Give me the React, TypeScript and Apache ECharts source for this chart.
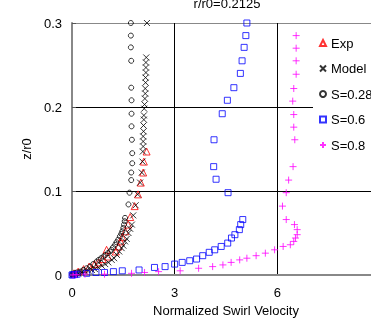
import React, { useEffect, useRef } from "react";
import * as echarts from "echarts";

const titleText = "r/r0=0.2125";
const xName = "Normalized Swirl Velocity";
const yName = "z/r0";
const seriesNames = ["Exp", "Model", "S=0.28", "S=0.6", "S=0.8"];

const expData: number[][] = [
  [2.18, 0.147], [2.1, 0.135], [2.08, 0.122], [2.01, 0.11], [1.93, 0.096],
  [1.83, 0.082], [1.7, 0.069], [1.64, 0.06], [1.56, 0.052], [1.47, 0.045],
  [1.42, 0.04], [1.36, 0.034], [1.28, 0.028], [1.01, 0.03], [1.05, 0.022],
  [0.9, 0.019], [0.78, 0.015], [0.66, 0.013], [0.5, 0.01], [0.34, 0.007],
  [0.18, 0.004], [0.06, 0.002],
];

const modelData: number[][] = [
  [2.19, 0.3], [2.17, 0.259], [2.16, 0.253], [2.16, 0.247], [2.16, 0.241],
  [2.15, 0.235], [2.15, 0.229], [2.14, 0.222], [2.14, 0.216], [2.13, 0.21],
  [2.12, 0.203], [2.11, 0.198], [2.1, 0.19], [2.1, 0.185], [2.09, 0.178],
  [2.09, 0.171], [2.08, 0.165], [2.08, 0.159], [2.08, 0.153], [2.07, 0.147],
  [2.06, 0.135], [2.04, 0.122], [1.99, 0.11], [1.92, 0.096], [1.86, 0.083],
  [1.79, 0.071], [1.75, 0.06], [1.7, 0.055], [1.65, 0.05], [1.6, 0.043],
  [1.55, 0.04], [1.5, 0.035], [1.45, 0.032], [1.38, 0.028], [1.31, 0.024],
  [1.23, 0.02], [1.16, 0.018], [1.06, 0.015], [0.97, 0.013], [0.87, 0.011],
  [0.77, 0.009], [0.67, 0.007], [0.58, 0.006], [0.48, 0.005], [0.38, 0.004],
  [0.28, 0.003], [0.18, 0.002], [0.09, 0.001], [0.03, 0.0005],
];

const s028Data: number[][] = [
  [1.72, 0.3], [1.72, 0.285], [1.72, 0.271], [1.73, 0.255], [1.73, 0.223],
  [1.74, 0.208], [1.74, 0.192], [1.74, 0.177], [1.75, 0.161], [1.76, 0.145],
  [1.76, 0.133], [1.73, 0.122], [1.73, 0.113], [1.68, 0.098], [1.65, 0.084],
  [1.55, 0.068], [1.54, 0.064], [1.52, 0.06], [1.5, 0.056], [1.47, 0.052],
  [1.44, 0.049], [1.4, 0.046], [1.35, 0.042], [1.3, 0.039], [1.26, 0.036],
  [1.2, 0.033], [1.15, 0.03], [1.11, 0.028], [1.05, 0.026], [0.98, 0.024],
  [0.92, 0.022], [0.85, 0.02], [0.78, 0.018], [0.72, 0.016], [0.62, 0.013],
  [0.53, 0.01], [0.43, 0.008], [0.33, 0.006], [0.24, 0.004], [0.14, 0.003],
  [0.07, 0.002], [0.02, 0.001], [0.0, 0.0005],
];

const s06Data: number[][] = [
  [5.11, 0.3], [5.08, 0.285], [5.03, 0.271], [4.97, 0.255], [4.92, 0.24],
  [4.73, 0.223], [4.54, 0.208], [4.39, 0.192], [4.15, 0.161], [4.14, 0.129],
  [4.21, 0.114], [4.56, 0.098], [4.99, 0.066], [4.93, 0.06], [4.89, 0.054],
  [4.76, 0.048], [4.66, 0.044], [4.55, 0.038], [4.36, 0.034], [4.17, 0.03],
  [4.01, 0.027], [3.82, 0.023], [3.64, 0.019], [3.44, 0.017], [3.22, 0.015],
  [3.0, 0.013], [2.72, 0.01], [2.41, 0.009], [1.96, 0.006], [1.47, 0.005],
  [1.21, 0.004], [0.95, 0.003], [0.7, 0.003], [0.43, 0.002], [0.15, 0.001],
  [0.08, 0.0005], [0.03, 0.0002], [0.0, 0.0],
];

const s08Data: number[][] = [
  [6.55, 0.285], [6.55, 0.27], [6.55, 0.255], [6.55, 0.239], [6.48, 0.222],
  [6.45, 0.207], [6.48, 0.191], [6.48, 0.176], [6.51, 0.161], [6.46, 0.129],
  [6.33, 0.113], [6.26, 0.098], [6.15, 0.082], [6.26, 0.066], [6.5, 0.06],
  [6.58, 0.054], [6.58, 0.048], [6.53, 0.044], [6.48, 0.04], [6.38, 0.036],
  [6.17, 0.034], [5.92, 0.03], [5.65, 0.026], [5.38, 0.023], [5.11, 0.02],
  [4.9, 0.018], [4.65, 0.015], [4.41, 0.012], [4.11, 0.01], [3.7, 0.008],
  [3.16, 0.005], [2.53, 0.004], [2.12, 0.003], [1.74, 0.002], [0.95, 0.001],
  [0.38, 0.001], [0.12, 0.0005], [0.03, 0.0],
];

const FONT = "'Liberation Sans', Arial, sans-serif";
const CROSS = "path://M0,0L10,10M10,0L0,10";
const PLUS = "path://M5,0L5,10M0,5L10,5";
const CLEAR = "rgba(0,0,0,0)";

export default function App() {
  const ref = useRef<HTMLDivElement>(null);
  useEffect(() => {
    if (!ref.current) return;
    const chart = echarts.init(ref.current, null, { renderer: "svg" });
    const mk = (name: string, data: number[][], symbol: string, size: number, color: string) => ({
      name,
      type: "scatter",
      data,
      symbol,
      symbolSize: size,
      itemStyle: { color: CLEAR, borderColor: color, borderWidth: 1 },
      emphasis: { disabled: true },
    });
    chart.setOption({
      animation: false,
      textStyle: { fontFamily: FONT },
      grid: { left: 72, top: 23, width: 308, height: 252, outerBoundsMode: "none", containLabel: false },
      graphic: [
        {
          type: "text",
          x: 227,
          y: 3.5,
          style: { text: titleText, fontSize: 13, fontFamily: FONT, fill: "#000", align: "center", verticalAlign: "middle" },
        },
      ],
      legend: {
        data: seriesNames,
        orient: "vertical",
        left: 313,
        top: 31,
        padding: [4, 20, 22, 6],
        backgroundColor: "#fff",
        itemWidth: 6,
        itemHeight: 6,
        itemGap: 9.5,
        itemTextGap: 5,
        textStyle: { fontSize: 13, color: "#000", fontFamily: FONT, lineHeight: 16 },
      },
      xAxis: {
        type: "value",
        min: 0,
        max: 9,
        interval: 3,
        name: xName,
        nameLocation: "middle",
        nameGap: 28,
        nameTextStyle: { fontSize: 13, color: "#000", fontFamily: FONT },
        axisLine: { show: true, lineStyle: { color: "#888", width: 2 } },
        axisTick: { show: false },
        axisLabel: { fontSize: 13, color: "#000", margin: 11, fontFamily: FONT, showMaxLabel: false },
        splitLine: { show: true, lineStyle: { color: "#000", width: 1 } },
      },
      yAxis: {
        type: "value",
        min: 0,
        max: 0.3,
        interval: 0.1,
        name: yName,
        nameLocation: "middle",
        nameGap: 34,
        nameTextStyle: { fontSize: 13, color: "#000", fontFamily: FONT },
        axisLine: { show: true, lineStyle: { color: "#888", width: 2 } },
        axisTick: { show: true, inside: true, length: 4, lineStyle: { color: "#555" } },
        axisLabel: { fontSize: 13, color: "#000", margin: 10, fontFamily: FONT },
        splitLine: { show: true, lineStyle: { color: ["#888", "#000", "#000", "#888"], width: 1 } },
      },
      series: [
        mk("Exp", expData, "triangle", 7, "#ff0000"),
        mk("Model", modelData, CROSS, 6, "#000000"),
        mk("S=0.28", s028Data, "circle", 5, "#000000"),
        mk("S=0.6", s06Data, "rect", 6, "#0000ff"),
        mk("S=0.8", s08Data, PLUS, 7, "#ff00ff"),
      ],
    });
    return () => chart.dispose();
  }, []);
  return <div ref={ref} style={{ position: "fixed", left: 0, top: 0, width: 371, height: 320 }} />;
}
